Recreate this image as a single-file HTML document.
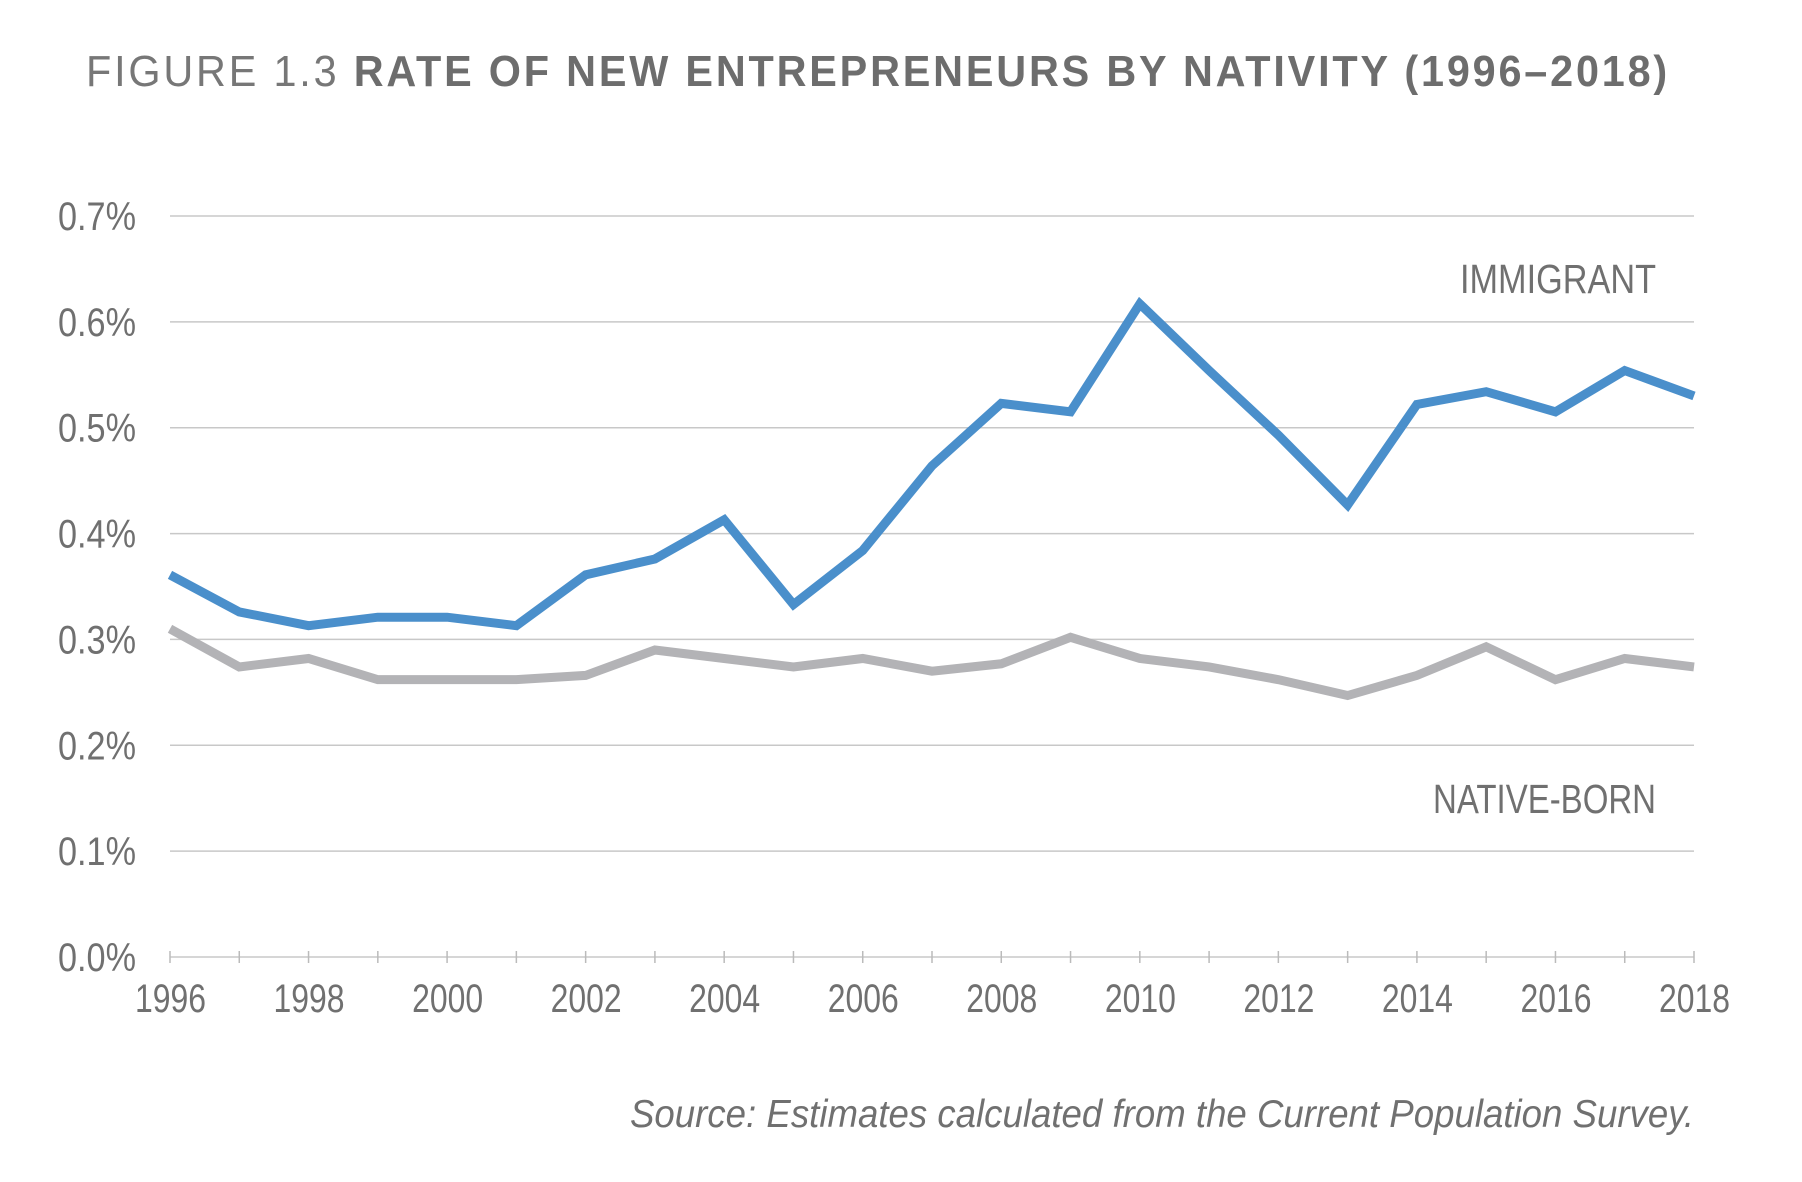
<!DOCTYPE html>
<html><head><meta charset="utf-8"><style>
html,body{margin:0;padding:0;background:#fff}
svg{display:block}
text{font-family:"Liberation Sans Narrow","Liberation Sans",sans-serif;fill:#707070}
</style></head><body>
<svg id="chart" width="1802" height="1182" viewBox="0 0 1802 1182" xmlns="http://www.w3.org/2000/svg">
<text x="86" y="86" font-size="44" style="font-family:'Liberation Sans',sans-serif;letter-spacing:3px" textLength="1584" lengthAdjust="spacingAndGlyphs"><tspan fill="#777">FIGURE 1.3 </tspan><tspan font-weight="bold" fill="#6d6d6d"> RATE OF NEW ENTREPRENEURS BY NATIVITY (1996–2018)</tspan></text>
<g id="grid"></g>
<g id="yaxis"></g>
<g id="xaxis"></g>
<g id="series"></g>
<text x="1460" y="293" font-size="41" textLength="196" lengthAdjust="spacingAndGlyphs" fill="#6a6a6a">IMMIGRANT</text>
<text x="1433" y="813" font-size="41" textLength="223" lengthAdjust="spacingAndGlyphs" fill="#6a6a6a">NATIVE-BORN</text>
<text x="630" y="1127" font-size="39" font-style="italic" textLength="1064" lengthAdjust="spacingAndGlyphs" fill="#777">Source: Estimates calculated from the Current Population Survey.</text>
</svg>
<script>
const years=[1996,1997,1998,1999,2000,2001,2002,2003,2004,2005,2006,2007,2008,2009,2010,2011,2012,2013,2014,2015,2016,2017,2018];
const immigrant=[0.361,0.326,0.313,0.321,0.321,0.313,0.361,0.376,0.413,0.333,0.384,0.464,0.523,0.515,0.617,0.554,0.493,0.427,0.522,0.534,0.515,0.554,0.530];
const nativeBorn=[0.310,0.274,0.282,0.262,0.262,0.262,0.266,0.290,0.282,0.274,0.282,0.270,0.277,0.302,0.282,0.274,0.262,0.247,0.266,0.293,0.262,0.282,0.274];
const yTicks=[0,0.1,0.2,0.3,0.4,0.5,0.6,0.7];
const yTickLabels=["0.0%","0.1%","0.2%","0.3%","0.4%","0.5%","0.6%","0.7%"];
const NS="http://www.w3.org/2000/svg";
const X0=170,X1=1694,Y0=957,Y1=216;
const xs=y=>X0+(y-years[0])/(years[years.length-1]-years[0])*(X1-X0);
const ys=v=>Y0-v/0.7*(Y0-Y1);
function mk(t,a,p){const e=document.createElementNS(NS,t);for(const k in a)e.setAttribute(k,a[k]);p.appendChild(e);return e;}
const grid=document.getElementById('grid'),ya=document.getElementById('yaxis'),xa=document.getElementById('xaxis'),se=document.getElementById('series');
yTicks.forEach((v,i)=>{
 if(v>0){const l=mk('line',{x1:X0,x2:X1,y1:ys(v),y2:ys(v),stroke:'#c8c8c8','stroke-width':1.5},grid);
 
 }
 const t=mk('text',{x:58,y:ys(v)+14,'font-size':40,textLength:78,lengthAdjust:'spacingAndGlyphs'},ya);t.textContent=yTickLabels[i];
 
 
});
const ax=mk('line',{x1:X0,x2:X1,y1:Y0,y2:Y0,stroke:'#c8c8c8','stroke-width':1.5},xa);


years.forEach((yr,i)=>{
 const tk=mk('line',{x1:xs(yr),x2:xs(yr),y1:Y0-6,y2:Y0+6,stroke:'#bbb','stroke-width':1.5},xa);
 
 
 if(i%2===0){const t=mk('text',{x:xs(yr)-35,y:1012,'font-size':40,textLength:71,lengthAdjust:'spacingAndGlyphs'},xa);t.textContent=yr;
 
 }
});
function line(data,color,name){
 const p=mk('polyline',{points:data.map((v,i)=>xs(years[i])+','+ys(v)).join(' '),fill:'none',stroke:color,'stroke-width':9,'stroke-linejoin':'miter'},se);
 
 
}
line(nativeBorn,'#b3b3b6','native-born-line');
line(immigrant,'#4a8fcb','immigrant-line');
</script>
</body></html>
